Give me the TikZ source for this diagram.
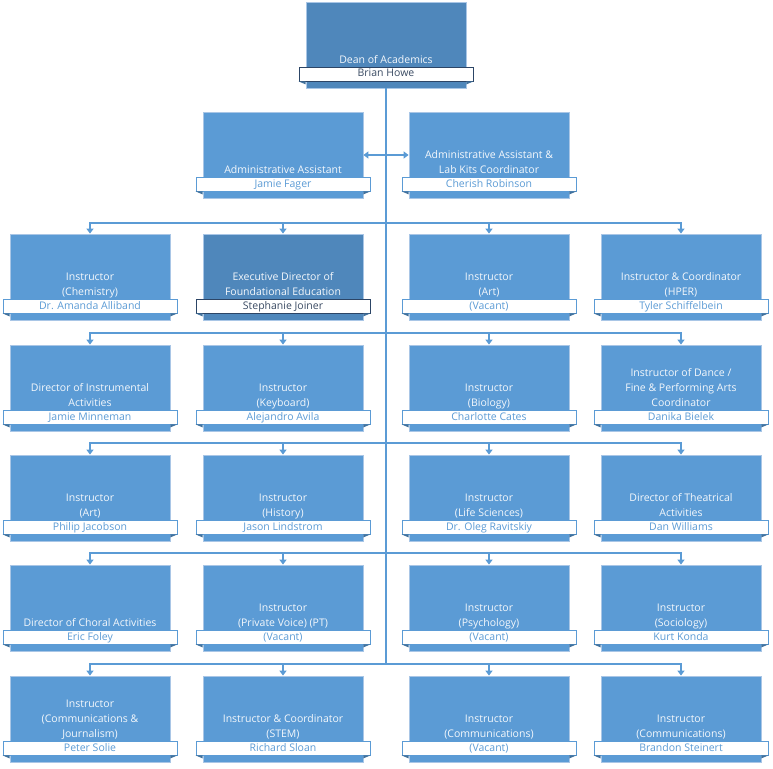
\documentclass[tikz,border=0pt]{standalone}
\usepackage{fontspec}
\setmainfont{Open Sans}
\usepackage{tikz}
\usetikzlibrary{arrows.meta,calc}

\definecolor{boxblue}{HTML}{5B9BD5}
\definecolor{boxdeep}{HTML}{4F87BB}
\definecolor{boxedge}{HTML}{A9C6E6}
\definecolor{tagtext}{HTML}{5B9BD5}
\definecolor{deeptext}{HTML}{3A4B63}
\definecolor{deepedge}{HTML}{2C4566}
\definecolor{foldblue}{HTML}{41719C}

% one unit of the chart: box, title, name tag
\newcommand{\orgunit}[6]{%
  \node[unit,#2] (#1) at (#3,#4+43) {};
  \node[ttl] (#1-t) at (#3,#4+66) {#5\strut};
  \node[tag,#2tag] (#1-n) at (#3,#4+72) {#6};
  \fill[fold] (#1-n.south west) -- ++(7,0) -- ++(0,3) -- cycle;
  \fill[fold] (#1-n.south east) -- ++(-7,0) -- ++(0,3) -- cycle;
}

\begin{document}
\begin{tikzpicture}[
  x=1pt,y=-1pt,
  font=\fontsize{10.5}{15}\selectfont,
  unit/.style={rectangle,draw=boxedge,line width=0.8pt,minimum width=160pt,minimum height=86pt,inner sep=0pt},
  lite/.style={fill=boxblue}, deep/.style={fill=boxdeep},
  ttl/.style={anchor=south,align=center,inner sep=0pt,text=white!93!boxblue},
  tag/.style={rectangle,fill=white,line width=0.8pt,minimum width=174pt,minimum height=14pt,inner sep=0pt,text height=8pt,text depth=2pt},
  litetag/.style={draw=boxblue,text=tagtext}, deeptag/.style={draw=deepedge,text=deeptext},
  fold/.style={fill=foldblue},
  ar/.style={-{Triangle[length=5pt,width=7pt]},draw=boxblue,line width=1.3pt},
  ln/.style={draw=boxblue,line width=1.3pt}
]
\useasboundingbox (0,0) rectangle (773,768);

\orgunit{dean}{deep}{386}{2}{Dean of Academics}{Brian Howe}

\orgunit{asstA}{lite}{283}{112}{Administrative Assistant}{Jamie Fager}
\orgunit{asstB}{lite}{489}{112}{Administrative Assistant \&\\Lab Kits Coordinator}{Cherish Robinson}

\orgunit{chem}{lite}{90}{234}{Instructor\\(Chemistry)}{Dr. Amanda Alliband}
\orgunit{fnd}{deep}{283}{234}{Executive Director of\\Foundational Education}{Stephanie Joiner}
\orgunit{artA}{lite}{489}{234}{Instructor\\(Art)}{(Vacant)}
\orgunit{hper}{lite}{681}{234}{Instructor \& Coordinator\\(HPER)}{Tyler Schiffelbein}

\orgunit{instr}{lite}{90}{345}{Director of Instrumental\\Activities}{Jamie Minneman}
\orgunit{keyb}{lite}{283}{345}{Instructor\\(Keyboard)}{Alejandro Avila}
\orgunit{bio}{lite}{489}{345}{Instructor\\(Biology)}{Charlotte Cates}
\orgunit{dance}{lite}{681}{345}{Instructor of Dance /\\Fine \& Performing Arts\\Coordinator}{Danika Bielek}

\orgunit{artB}{lite}{90}{455}{Instructor\\(Art)}{Philip Jacobson}
\orgunit{hist}{lite}{283}{455}{Instructor\\(History)}{Jason Lindstrom}
\orgunit{life}{lite}{489}{455}{Instructor\\(Life Sciences)}{Dr. Oleg Ravitskiy}
\orgunit{theat}{lite}{681}{455}{Director of Theatrical\\Activities}{Dan Williams}

\orgunit{choral}{lite}{90}{565}{Director of Choral Activities}{Eric Foley}
\orgunit{voice}{lite}{283}{565}{Instructor\\(Private Voice) (PT)}{(Vacant)}
\orgunit{psych}{lite}{489}{565}{Instructor\\(Psychology)}{(Vacant)}
\orgunit{soc}{lite}{681}{565}{Instructor\\(Sociology)}{Kurt Konda}

\orgunit{journ}{lite}{90}{676}{Instructor\\(Communications \&\\Journalism)}{Peter Solie}
\orgunit{stem}{lite}{283}{676}{Instructor \& Coordinator\\(STEM)}{Richard Sloan}
\orgunit{comA}{lite}{489}{676}{Instructor\\(Communications)}{(Vacant)}
\orgunit{comB}{lite}{681}{676}{Instructor\\(Communications)}{Brandon Steinert}

% trunk and buses
\coordinate (bus2) at (386,223);
\coordinate (bus3) at (386,333);
\coordinate (bus4) at (386,443);
\coordinate (bus5) at (386,553);
\coordinate (bus6) at (386,664);
\draw[ln] (dean.south) -- (bus6);
\draw[{Triangle[length=5pt,width=7pt]}-{Triangle[length=5pt,width=7pt]},draw=boxblue,line width=1.3pt] (asstA.east) -- (asstB.west);
\foreach \r/\a/\b/\c/\d in {2/chem/fnd/artA/hper,3/instr/keyb/bio/dance,4/artB/hist/life/theat,5/choral/voice/psych/soc,6/journ/stem/comA/comB}{
  \draw[ar] (bus\r) -| (\a.north);
  \draw[ar] (bus\r) -| (\b.north);
  \draw[ar] (bus\r) -| (\c.north);
  \draw[ar] (bus\r) -| (\d.north);
}
\end{tikzpicture}
\end{document}
